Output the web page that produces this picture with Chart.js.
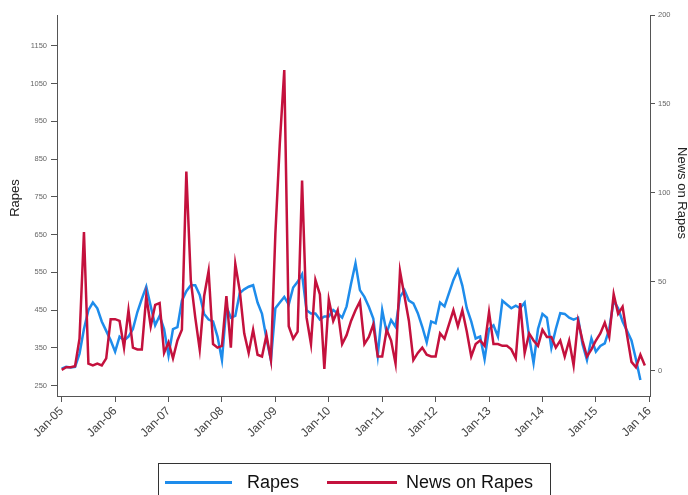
<!DOCTYPE html>
<html><head><meta charset="utf-8">
<script src="https://cdn.jsdelivr.net/npm/chart.js@4.4.1/dist/chart.umd.min.js"></script>
<style>html,body{margin:0;padding:0;background:#fff;}#wrap{width:688px;height:495px;position:relative;}</style>
</head><body><div id="wrap"><canvas id="c" width="688" height="495"></canvas></div>
<script>
// Monthly values, Jan 2005 onward
const rapes = [295,300,298,300,335,400,450,470,455,420,395,370,340,380,370,380,400,445,480,512,460,410,435,400,330,400,405,475,500,516,516,490,440,425,420,380,318,460,430,435,495,505,512,516,470,440,375,318,455,470,485,465,510,525,545,450,441,441,425,433,433,450,441,430,460,520,574,503,485,459,428,330,450,390,424,406,485,503,475,468,442,406,365,420,415,470,460,495,530,556,515,455,420,375,380,320,400,410,380,475,465,455,462,455,470,380,310,400,440,430,350,400,442,440,430,425,430,360,318,375,340,355,362,400,475,455,420,395,370,320,265];
const newsOnRapes = [0.5,2,2,2.5,18,78,4,3,4,3,7,29,29,28,13,34,13,12,12,42,25,37,38,10,16,7,17,23,112,51,30,12,42,56,15,13,14,42,13,60,45,21,10,23,9,8,20,6,77,128,169,25,18,22,107,30,15,51,43,1,40,28,34,15,20,28,34,39,15,19,26,8,8,23,17,4,56,42,28,6,10,13,9,8,8,21,18,26,34,25,34,22,8,15,17,14,33,15,15,14,14,12,7,38,10,21,17,14,23,19,19,13,17,8,17,3,28,17,8,12,17,21,27,19,43,32,36,20,5,2,9,3];
const xTickMonths = [0,12,24,36,48,60,72,84,96,108,120,132];
const xTickLabels = ["Jan-05","Jan-06","Jan-07","Jan-08","Jan-09","Jan-10","Jan-11","Jan-12","Jan-13","Jan-14","Jan-15","Jan 16"];
const leftTicks = [250,350,450,550,650,750,850,950,1050,1150];
const rightTicks = [0,50,100,150,200];
const seriesNames = ["Rapes","News on Rapes"];
const axisTitles = ["Rapes","News on Rapes"];

const FONT = "'Liberation Sans', Arial, Helvetica, sans-serif";
const BLUE = "#1E8CEB";
const RED = "#C4113D";

const decor = {
  id: 'decor',
  afterDraw(chart) {
    const ctx = chart.ctx;
    ctx.save();
    ctx.fillStyle = '#222';
    ctx.font = "13px " + FONT;
    ctx.textAlign = 'center';
    ctx.textBaseline = 'middle';
    ctx.save(); ctx.translate(15, 198); ctx.rotate(-Math.PI/2); ctx.fillText(axisTitles[0], 0, 0); ctx.restore();
    ctx.save(); ctx.translate(682, 193); ctx.rotate(Math.PI/2); ctx.fillText(axisTitles[1], 0, 0); ctx.restore();
    ctx.strokeStyle = '#333';
    ctx.lineWidth = 1;
    ctx.strokeRect(158.5, 463.5, 392, 40);
    const ds = chart.data.datasets;
    const items = [{x0:165,x1:232,tx:247},{x0:327,x1:397,tx:406}];
    items.forEach((it, i) => {
      ctx.strokeStyle = ds[i].borderColor;
      ctx.lineWidth = 3;
      ctx.beginPath(); ctx.moveTo(it.x0, 482.5); ctx.lineTo(it.x1, 482.5); ctx.stroke();
      ctx.fillStyle = '#111';
      ctx.font = "18px " + FONT;
      ctx.textAlign = 'left';
      ctx.textBaseline = 'middle';
      ctx.fillText(ds[i].label, it.tx, 483);
    });
    ctx.restore();
  }
};

new Chart(document.getElementById('c'), {
  type: 'line',
  data: {
    datasets: [
      { label: seriesNames[0], data: rapes.map((v,i)=>({x:i,y:v})), borderColor: BLUE, borderWidth: 2.5, pointRadius: 0, tension: 0, yAxisID: 'y', order: 2 },
      { label: seriesNames[1], data: newsOnRapes.map((v,i)=>({x:i,y:v})), borderColor: RED, borderWidth: 2.5, pointRadius: 0, tension: 0, yAxisID: 'y1', order: 1 }
    ]
  },
  options: {
    responsive: false,
    animation: false,
    events: [],
    layout: { padding: { top: 15, left: 0, right: 0, bottom: 0 } },
    plugins: { legend: { display: false }, tooltip: { enabled: false } },
    scales: {
      x: {
        type: 'linear', min: -1.056, max: 132.16,
        afterBuildTicks: s => { s.ticks = xTickMonths.map(v => ({ value: v })); },
        afterFit: s => { s.height = 99; },
        grid: { drawOnChartArea: false, drawTicks: true, tickLength: 6, color: '#555' },
        border: { display: true, color: '#555', width: 1 },
        ticks: { autoSkip: false, minRotation: 45, maxRotation: 45, padding: 2, color: '#444', font: { family: FONT, size: 12 },
          callback: (v) => xTickLabels[xTickMonths.indexOf(v)] }
      },
      y: {
        position: 'left', min: 222.7, max: 1231.2,
        afterBuildTicks: s => { s.ticks = leftTicks.map(v => ({ value: v })); },
        afterFit: s => { s.width = 57; },
        grid: { drawOnChartArea: false, drawTicks: true, tickLength: 6, color: '#555' },
        border: { display: true, color: '#555', width: 1 },
        ticks: { padding: 4, color: '#666', font: { family: FONT, size: 7.5 }, callback: v => String(v) }
      },
      y1: {
        position: 'right', min: -14.2, max: 200,
        afterBuildTicks: s => { s.ticks = rightTicks.map(v => ({ value: v })); },
        afterFit: s => { s.width = 38; },
        grid: { drawOnChartArea: false, drawTicks: true, tickLength: 5, color: '#555' },
        border: { display: true, color: '#555', width: 1 },
        ticks: { padding: 3, color: '#666', font: { family: FONT, size: 7.5 }, callback: v => String(v) }
      }
    }
  },
  plugins: [decor]
});
</script>
</body></html>
